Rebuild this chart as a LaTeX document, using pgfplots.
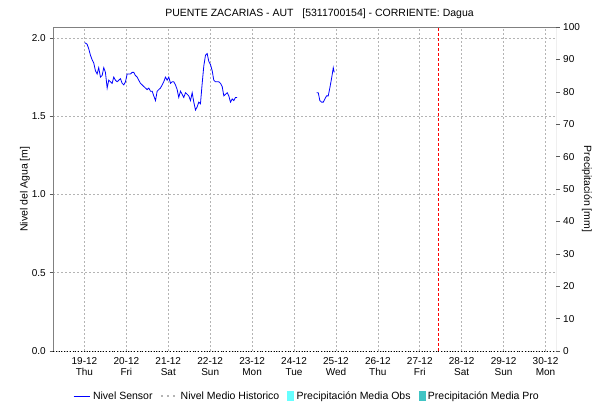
\documentclass[border=0pt]{standalone}
\usepackage{pgfplots}
\pgfplotsset{compat=1.18}
\usepackage{fontspec}
\setmainfont{Liberation Sans}
\definecolor{obs}{HTML}{66FFFF}
\definecolor{pro}{HTML}{40C4C4}
\definecolor{gridc}{HTML}{B4B4B4}
\begin{document}
\fontsize{10.5bp}{12bp}\selectfont
\begin{tikzpicture}[x=1bp,y=1bp]
\useasboundingbox (0,0) rectangle (595,401);
\pgfplotsset{
  every axis/.append style={scale only axis, width=503bp, height=324bp,
    at={(53bp,50bp)}, anchor=south west, xmin=-0.75, xmax=11.25,
    font=\fontsize{10.5bp}{12bp}\selectfont,
    tick label style={font=\fontsize{10bp}{11.5bp}\selectfont},
    /pgf/number format/assume math mode=true,
    tick align=outside, major tick length=3.5bp,
    tick style={gray!70!black, line width=0.5bp}},
}
\begin{axis}[
  axis line style={draw=none},
  ymin=0, ymax=2.07,
  ytick={0,0.5,1,1.5,2},
  ytick pos=left,
  yticklabel style={/pgf/number format/.cd, fixed, fixed zerofill, precision=1},
  xtick={0,...,11},
  xticklabels={{19-12\\Thu},{20-12\\Fri},{21-12\\Sat},{22-12\\Sun},{23-12\\Mon},{24-12\\Tue},{25-12\\Wed},{26-12\\Thu},{27-12\\Fri},{28-12\\Sat},{29-12\\Sun},{30-12\\Mon}},
  xticklabel style={align=center, yshift=1bp},
  xtick style={draw=none},
  grid=major,
  major grid style={gridc, line width=0.6bp, dash pattern=on 2bp off 2bp},
  ylabel={Nivel del Agua [m]},
  ylabel style={at={(axis description cs:-0.0557,0.5)}, anchor=center, rotate=0},
  legend columns=4,
  legend style={at={(axis description cs:0.505,-0.139)}, anchor=center, draw=none, fill=none,
    font=\fontsize{10.5bp}{12bp}\selectfont, /tikz/every even column/.append style={column sep=6bp},
    /tikz/every odd column/.append style={column sep=1bp}},
  legend image code/.code={\draw[#1] (0bp,0bp) -- (16bp,0bp);},
]
\addplot[blue, line width=0.8bp] coordinates {
(0.007,1.97) (0.064,1.96) (0.103,1.93) (0.143,1.89) (0.184,1.86) (0.222,1.84) (0.263,1.79) (0.303,1.77) (0.341,1.81) (0.382,1.75)
(0.422,1.76) (0.461,1.81) (0.501,1.78) (0.542,1.68) (0.580,1.73) (0.621,1.72) (0.661,1.71) (0.699,1.75) (0.740,1.73) (0.780,1.72)
(0.819,1.73) (0.859,1.74) (0.900,1.71) (0.938,1.70) (0.979,1.72) (1.019,1.77) (1.057,1.77) (1.098,1.77) (1.138,1.78) (1.177,1.78)
(1.217,1.76) (1.258,1.75) (1.296,1.73) (1.337,1.71) (1.377,1.70) (1.415,1.69) (1.456,1.68) (1.496,1.67) (1.535,1.68) (1.575,1.66)
(1.616,1.66) (1.654,1.63) (1.695,1.60) (1.735,1.66) (1.773,1.67) (1.814,1.68) (1.854,1.70) (1.893,1.72) (1.933,1.75) (1.974,1.73)
(2.012,1.75) (2.053,1.71) (2.093,1.72) (2.131,1.72) (2.172,1.70) (2.212,1.67) (2.250,1.62) (2.291,1.66) (2.332,1.64) (2.370,1.62)
(2.411,1.65) (2.451,1.64) (2.489,1.63) (2.530,1.60) (2.570,1.65) (2.609,1.59) (2.649,1.54) (2.690,1.56) (2.728,1.59) (2.768,1.58)
(2.809,1.71) (2.847,1.82) (2.888,1.89) (2.928,1.90) (2.967,1.85) (3.007,1.83) (3.048,1.79) (3.086,1.73) (3.126,1.72) (3.167,1.72)
(3.205,1.72) (3.246,1.71) (3.286,1.69) (3.325,1.63) (3.365,1.64) (3.406,1.65) (3.444,1.63) (3.484,1.59) (3.525,1.61) (3.563,1.60)
(3.604,1.62) (3.644,1.62)
};
\addlegendentry{Nivel Sensor}
\addplot[blue, line width=0.8bp, forget plot] coordinates {
(5.537,1.65) (5.578,1.65) (5.616,1.60) (5.656,1.59) (5.697,1.59) (5.735,1.61) (5.776,1.63) (5.816,1.63) (5.854,1.68) (5.888,1.73)
(5.919,1.78) (5.936,1.81) (5.959,1.78)
};
\addplot[red, line width=0.8bp, dash pattern=on 3bp off 2bp, forget plot] coordinates {(8.45,0) (8.45,2.07)};
\addlegendimage{gridc, line width=1.2bp, dash pattern=on 2bp off 4bp}
\addlegendentry{Nivel Medio Historico}
\addlegendimage{legend image code/.code={\fill[obs] (0bp,-4.5bp) rectangle (6bp,5bp);}}
\addlegendentry{Precipitación Media Obs}
\addlegendimage{legend image code/.code={\fill[pro] (0bp,-4.5bp) rectangle (6bp,5bp);}}
\addlegendentry{Precipitación Media Pro}
\draw[gray, line width=0.8bp] (axis description cs:0,0) -- (axis description cs:0,1) -- (axis description cs:1,1) -- (axis description cs:1,0);
\draw[black, line width=0.8bp, dotted] (axis description cs:0,0) -- (axis description cs:1,0);
\end{axis}
\begin{axis}[
  axis x line=none,
  axis y line*=right,
  axis line style={draw=none},
  ymin=0, ymax=100,
  ytick={0,10,...,100},
  ylabel={Precipitación [mm]},
  ylabel style={at={(axis description cs:1.0616,0.5)}, anchor=center, rotate=180},
]
\addplot[draw=none, forget plot] coordinates {(0,0)};
\end{axis}
\node[font=\fontsize{10.5bp}{12bp}\selectfont] at (319.5,387) {PUENTE ZACARIAS - AUT\ \ \ [5311700154] - CORRIENTE: Dagua};
\end{tikzpicture}
\end{document}
